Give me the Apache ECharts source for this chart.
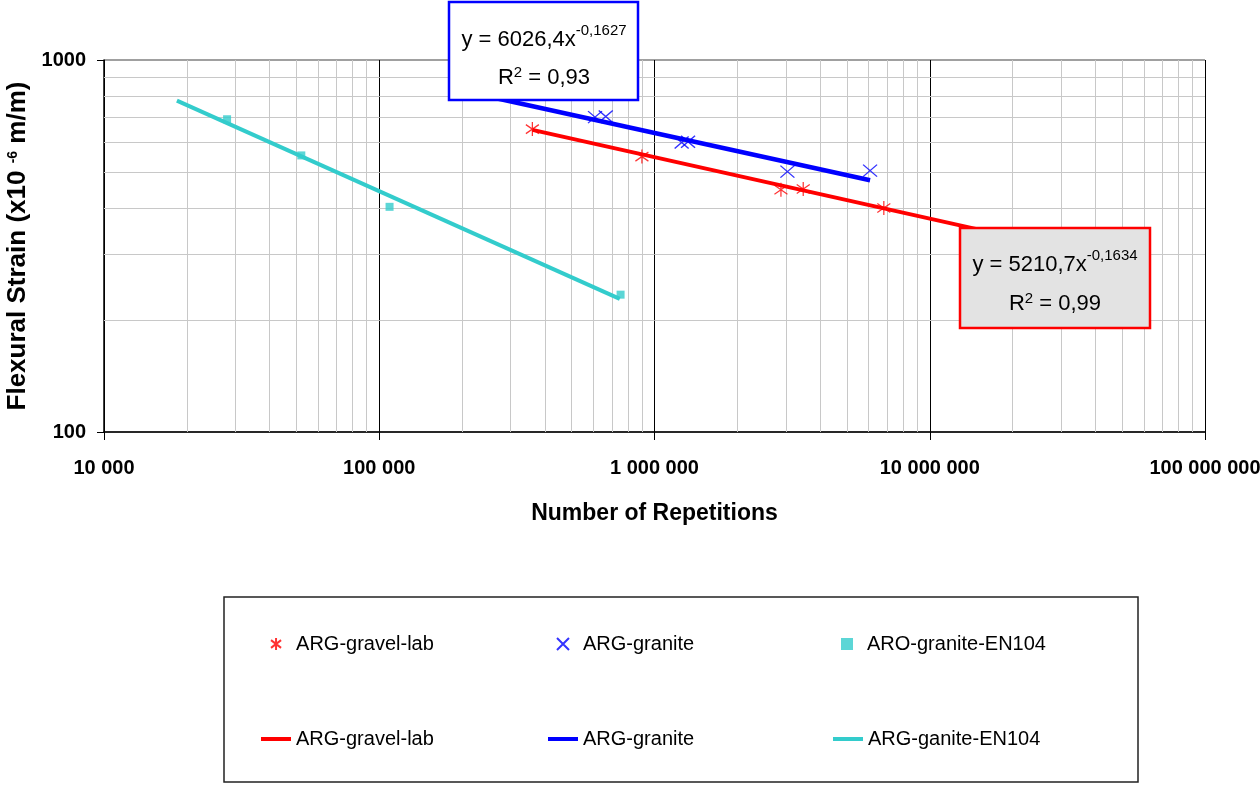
<!DOCTYPE html>
<html>
<head>
<meta charset="utf-8">
<script src="https://cdn.jsdelivr.net/npm/echarts@6/dist/echarts.min.js"></script>
<style>
html,body{margin:0;padding:0;background:#fff;}
#chart{width:1260px;height:787px;}
</style>
</head>
<body>
<div id="chart"></div>
<script>
// ---- data ----
const gravelLabN = [360000, 900000, 2880000, 3470000, 6810000];
const gravelLabE = [652, 550, 448, 450, 400];

const graniteN = [608000, 665000, 1255000, 1324000, 3040000, 6070000];
const graniteE = [702, 705, 600, 603, 501, 504];

const en104N = [28000, 52100, 109000, 753000];
const en104E = [693, 554, 403, 234];

// trend lines (power fits, straight on log-log), end points
const gravelTrendN = [360000, 20000000];
const gravelTrendE = [649, 334];
const graniteTrendN = [200000, 6070000];
const graniteTrendE = [827, 475];
const en104TrendN = [18400, 748000];
const en104TrendE = [778, 228];

const xTicks = [10000, 100000, 1000000, 10000000, 100000000];
const yTicks = [100, 1000];
const xMinor = [];
for (const d of [1e4, 1e5, 1e6, 1e7]) for (let k = 2; k <= 9; k++) xMinor.push(k * d);
const yMinor = [200, 300, 400, 500, 600, 700, 800, 900];

const zip = (a, b) => a.map((v, i) => [v, b[i]]);
const FONT = "'Liberation Sans', Arial, sans-serif";
const fmtThousands = v => String(Math.round(v)).replace(/\B(?=(\d{3})+(?!\d))/g, ' ');

const chart = echarts.init(document.getElementById('chart'));

const legendBase = (name, left, top, isLine) => ({
  data: [name],
  left: left, top: top,
  orient: 'horizontal',
  padding: 0,
  itemWidth: 30,
  itemHeight: isLine ? 4 : 12,
  icon: isLine ? 'rect' : undefined,
  selectedMode: false,
  formatter: n => n.replace(' (trend)', ''),
  textStyle: { fontFamily: FONT, fontSize: 20, color: '#000' }
});

const richEq = (padS) => ({
  b: { fontFamily: FONT, fontSize: 22, color: '#000', verticalAlign: 'bottom' },
  s: { fontFamily: FONT, fontSize: 15, color: '#000', verticalAlign: 'bottom', padding: [0, 0, padS, 0] }
});

const option = {
  backgroundColor: '#fff',
  animation: false,
  grid: { left: 104, right: 55, top: 60, bottom: 355, containLabel: false, outerBoundsMode: 'none' },
  xAxis: {
    type: 'log', logBase: 10, min: 10000, max: 100000000, splitNumber: 4,
    name: 'Number of Repetitions', nameLocation: 'middle', nameGap: 70,
    nameTextStyle: { fontFamily: FONT, fontSize: 23, fontWeight: 'bold', color: '#000' },
    axisLine: { show: true, lineStyle: { color: '#000', width: 1.5 } },
    axisTick: { show: true, length: 8, lineStyle: { color: '#000' } },
    axisLabel: { margin: 26, fontFamily: FONT, fontSize: 20, fontWeight: 'bold', color: '#000',
      formatter: v => fmtThousands(v) },
    splitLine: { show: true, lineStyle: { color: '#000', width: 1 } }
  },
  yAxis: {
    type: 'log', logBase: 10, min: 100, max: 1000,
    name: 'Flexural Strain (x10 {sup|-6} m/m)', nameLocation: 'middle', nameGap: 71,
    nameTextStyle: { fontFamily: FONT, fontSize: 26, fontWeight: 'bold', color: '#000',
      rich: { sup: { fontFamily: FONT, fontSize: 14, fontWeight: 'bold', color: '#000',
        verticalAlign: 'bottom', padding: [0, 0, 10, 0] } } },
    axisLine: { show: true, lineStyle: { color: '#000', width: 1.5 } },
    axisTick: { show: true, length: 7, lineStyle: { color: '#000' } },
    axisLabel: { margin: 18, fontFamily: FONT, fontSize: 20, fontWeight: 'bold', color: '#000',
      formatter: v => String(Math.round(v)) },
    splitLine: { show: true, lineStyle: { color: '#808080', width: 1.5 } }
  },
  legend: [
    legendBase('ARG-gravel-lab', 270, 634, false),
    legendBase('ARG-granite', 556, 634, false),
    legendBase('ARO-granite-EN104', 841, 634, false),
    legendBase('ARG-gravel-lab (trend)', 261, 729, true),
    legendBase('ARG-granite (trend)', 548, 729, true),
    legendBase('ARG-ganite-EN104', 833, 729, true)
  ],
  graphic: [
    { type: 'rect', shape: { x: 224, y: 597, width: 914, height: 185 },
      style: { fill: 'none', stroke: '#222', lineWidth: 1.5 }, z: 10, silent: true },
    { type: 'rect', shape: { x: 449, y: 2, width: 189, height: 98 },
      style: { fill: '#fff', stroke: '#0000ff', lineWidth: 2.5 }, z: 20, silent: true },
    { type: 'text', x: 544, y: 37, z: 21, silent: true,
      style: { text: '{b|y = 6026,4x}{s|-0,1627}', align: 'center', verticalAlign: 'middle', rich: richEq(13) } },
    { type: 'text', x: 544, y: 77, z: 21, silent: true,
      style: { text: '{b|R}{s|2}{b| = 0,93}', align: 'center', verticalAlign: 'middle', rich: richEq(8) } },
    { type: 'rect', shape: { x: 960, y: 228, width: 190, height: 100 },
      style: { fill: '#e3e3e3', stroke: '#ff0000', lineWidth: 2.5 }, z: 20, silent: true },
    { type: 'text', x: 1055, y: 262, z: 21, silent: true,
      style: { text: '{b|y = 5210,7x}{s|-0,1634}', align: 'center', verticalAlign: 'middle', rich: richEq(13) } },
    { type: 'text', x: 1055, y: 303, z: 21, silent: true,
      style: { text: '{b|R}{s|2}{b| = 0,99}', align: 'center', verticalAlign: 'middle', rich: richEq(8) } }
  ],
  series: [
    {
      name: 'ARG-gravel-lab (trend)', type: 'line', z: 3, showSymbol: false, symbol: 'none',
      data: zip(gravelTrendN, gravelTrendE),
      lineStyle: { color: '#ff0000', width: 4 }, itemStyle: { color: '#ff0000' },
      silent: true,
      markLine: {
        silent: true, symbol: 'none', z: 1, animation: false,
        label: { show: false },
        lineStyle: { color: '#c8c8c8', width: 1, type: 'solid' },
        emphasis: { disabled: true },
        data: xMinor.map(v => ({ xAxis: v })).concat(yMinor.map(v => ({ yAxis: v })))
      }
    },
    {
      name: 'ARG-granite (trend)', type: 'line', z: 3, showSymbol: false, symbol: 'none',
      data: zip(graniteTrendN, graniteTrendE),
      lineStyle: { color: '#0000ff', width: 4.5 }, itemStyle: { color: '#0000ff' }, silent: true
    },
    {
      name: 'ARG-ganite-EN104', type: 'line', z: 3, showSymbol: false, symbol: 'none',
      data: zip(en104TrendN, en104TrendE),
      lineStyle: { color: '#33cccc', width: 4 }, itemStyle: { color: '#33cccc' }, silent: true
    },
    {
      name: 'ARG-gravel-lab', type: 'scatter', z: 5,
      symbol: 'path://M5,0L5,10M0.8,1.8L9.2,8.2M9.2,1.8L0.8,8.2', symbolSize: [13, 14],
      itemStyle: { color: 'rgba(0,0,0,0)', borderColor: '#ff0000', borderWidth: 1.3 },
      data: zip(gravelLabN, gravelLabE), silent: true
    },
    {
      name: 'ARG-granite', type: 'scatter', z: 5,
      symbol: 'path://M0,0L10,10M10,0L0,10', symbolSize: [14, 12],
      itemStyle: { color: 'rgba(0,0,0,0)', borderColor: '#0000ff', borderWidth: 1.3 },
      data: zip(graniteN, graniteE), silent: true
    },
    {
      name: 'ARO-granite-EN104', type: 'scatter', z: 5,
      symbol: 'path://M0,0L10,0L10,10L0,10Z', symbolKeepAspect: true, symbolSize: 8,
      itemStyle: { color: '#33cccc' },
      data: zip(en104N, en104E), silent: true
    }
  ]
};
chart.setOption(option);
</script>
</body>
</html>
